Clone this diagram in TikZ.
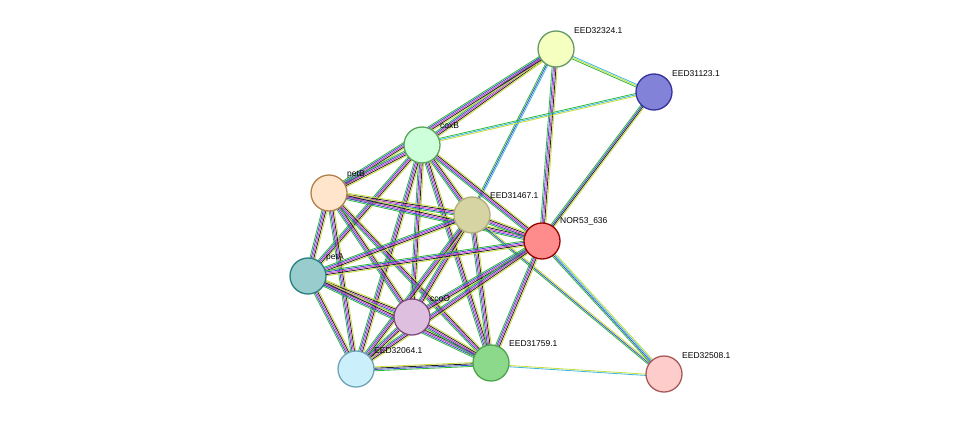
\documentclass[tikz,border=0pt]{standalone}
\usepackage{fontspec}
\setmainfont{Liberation Sans}
\usetikzlibrary{calc}
\definecolor{edgG}{HTML}{2DB83A}
\definecolor{edgB}{HTML}{3A4FC8}
\definecolor{edgM}{HTML}{D23AD2}
\definecolor{edgK}{HTML}{222222}
\definecolor{edgY}{HTML}{C8DC3A}
\definecolor{edgC}{HTML}{3AB8E0}
\tikzset{
  nd/.style={circle,draw,line width=1.3pt,minimum size=36pt,inner sep=0pt},
  lb/.style={anchor=south west,font=\fontsize{8.5}{10}\selectfont,inner sep=0pt},
}
\newcommand{\Edg}[3]{%
  \edef\mylst{#3}%
  \foreach \cl [count=\i] in \mylst {%
    \draw[draw=\cl,line width=0.8pt] ($(#1)!{(\i-3)*1.3pt}!90:(#2)$) -- ($(#2)!{(\i-3)*1.3pt}!-90:(#1)$);
  }}
\begin{document}
\begin{tikzpicture}[x=1pt,y=-1pt]
\useasboundingbox (0,0) rectangle (976,420);
\coordinate (s) at (556,49);
\coordinate (t) at (654,92);
\coordinate (x) at (422,145);
\coordinate (b) at (329,193);
\coordinate (k) at (472,215);
\coordinate (n) at (542,241);
\coordinate (a) at (308,276);
\coordinate (o) at (412,317);
\coordinate (l) at (356,369);
\coordinate (g) at (491,363);
\coordinate (p) at (664,374);
\def\F{edgG,edgB,edgM,edgK,edgY}
\Edg{s}{x}{\F}
\Edg{s}{b}{\F}
\Edg{s}{k}{edgG,edgB,edgC}
\Edg{s}{n}{\F}
\Edg{s}{t}{edgG,edgY,edgC}
\Edg{t}{x}{edgG,edgC,edgY}
\Edg{t}{n}{edgG,edgB,edgK,edgY}
\foreach \u in {b,k,n,a,o,l,g}{\Edg{x}{\u}{\F}}
\foreach \u in {k,n,a,o,l,g}{\Edg{b}{\u}{\F}}
\foreach \u in {n,a,o,l,g}{\Edg{k}{\u}{\F}}
\Edg{k}{p}{edgG,edgB,edgY}
\foreach \u in {a,o,l,g}{\Edg{n}{\u}{\F}}
\Edg{n}{p}{edgG,edgB,edgC,edgY}
\foreach \u in {o,l,g}{\Edg{a}{\u}{\F}}
\Edg{o}{l}{\F}
\Edg{o}{g}{\F}
\Edg{l}{g}{edgG,edgB,edgK,edgY}
\Edg{g}{p}{edgC,edgY}
\node[nd,draw=green!20!gray,fill=green!15!yellow!25] (S) at (s) {};
\node[nd,draw=blue!50!black!80,fill=blue!40!white!85!black] (T) at (t) {};
\node[nd,draw=green!30!gray,fill=green!15!white!95!cyan] (X) at (x) {};
\node[nd,draw=orange!40!gray,fill=orange!20!white] (B) at (b) {};
\node[nd,draw=yellow!30!gray,fill=yellow!40!gray!60!white] (K) at (k) {};
\node[nd,draw=red!60!black,fill=red!45!white] (N) at (n) {};
\node[nd,draw=teal!70!gray,fill=teal!40!white] (A) at (a) {};
\node[nd,draw=violet!40!gray,fill=violet!25!white] (O) at (o) {};
\node[nd,draw=cyan!40!gray,fill=cyan!20!white] (L) at (l) {};
\node[nd,draw=green!50!black!70,fill=green!50!gray!60!white] (G) at (g) {};
\node[nd,draw=red!30!gray,fill=red!20!white] (P) at (p) {};
\node[lb] at (574,34) {EED32324.1};
\node[lb] at (672,77) {EED31123.1};
\node[lb] at (440,129) {coxB};
\node[lb] at (347,178) {petB};
\node[lb] at (490,199) {EED31467.1};
\node[lb] at (560,225) {NOR53\_636};
\node[lb] at (326,261) {petA};
\node[lb] at (430,302) {ccoO};
\node[lb] at (374,354) {EED32064.1};
\node[lb] at (509,347) {EED31759.1};
\node[lb] at (682,359) {EED32508.1};
\end{tikzpicture}
\end{document}
